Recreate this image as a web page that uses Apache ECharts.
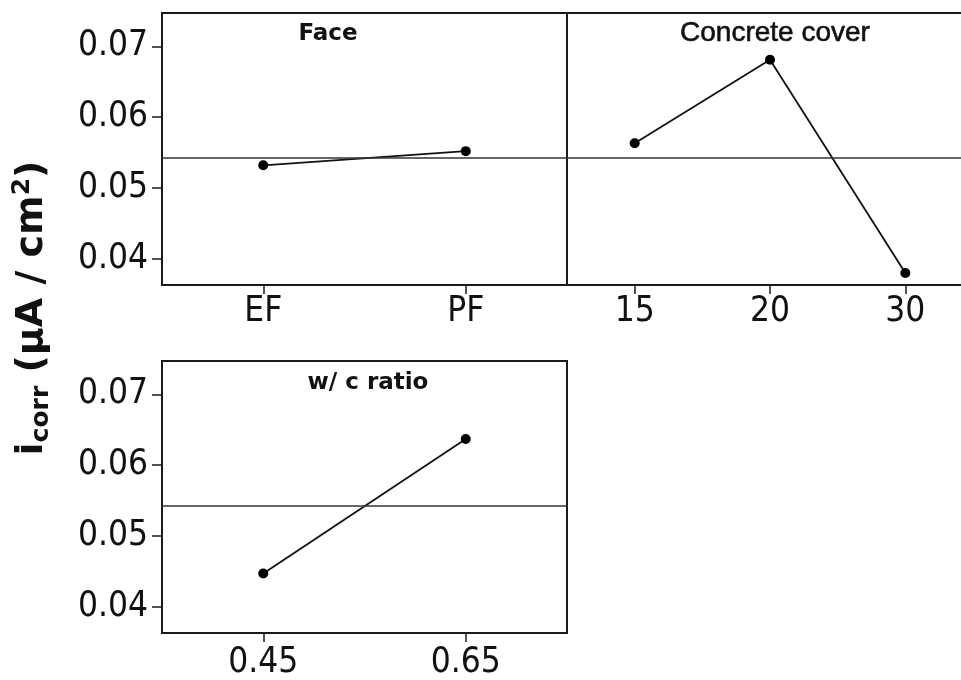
<!DOCTYPE html>
<html>
<head>
<meta charset="utf-8">
<script src="https://cdn.jsdelivr.net/npm/echarts@6/dist/echarts.min.js"></script>
<style>
html,body{margin:0;padding:0;background:#fff;overflow:hidden;width:961px;height:680px;}
#chart{width:975px;height:680px;}
</style>
</head>
<body>
<div id="chart"></div>
<script>
// ---- data ----
const faceLevels = ['EF', 'PF'];
const faceMeans = [0.0532, 0.0552];
const coverLevels = ['15', '20', '30'];
const coverMeans = [0.0563, 0.0681, 0.0380];
const wcLevels = ['0.45', '0.65'];
const wcMeans = [0.0447, 0.0637];
const grandMean = 0.0542;
const yTicks = [0.04, 0.05, 0.06, 0.07];
const yMin = 0.0363, yMax = 0.0747;
const panelTitles = ['Face', 'Concrete cover', 'w/ c ratio'];

const chart = echarts.init(document.getElementById('chart'), null, {renderer: 'canvas'});

const tickFont = 'DejaVu Sans Condensed';
const ink = '#1a1a1a';

function yAxisFor(gridIndex, showLabels) {
  return {
    type: 'value', gridIndex: gridIndex, min: yMin, max: yMax,
    axisLine: {show: true, lineStyle: {color: ink, width: 2}},
    axisTick: {show: showLabels, customValues: yTicks, length: 10, lineStyle: {color: ink, width: 1.5}},
    axisLabel: {show: showLabels, customValues: yTicks, fontFamily: tickFont, fontSize: 35,
      color: '#111', margin: 14, formatter: v => v.toFixed(2)},
    splitLine: {show: false}
  };
}
function xAxisFor(gridIndex, data, margin) {
  return {
    type: 'category', gridIndex: gridIndex, data: data, boundaryGap: true,
    axisLine: {show: true, lineStyle: {color: ink, width: 2}},
    axisTick: {show: true, alignWithLabel: true, length: 9, lineStyle: {color: ink, width: 1.5}},
    axisLabel: {fontFamily: tickFont, fontSize: 35, color: '#111', margin: margin, interval: 0},
    splitLine: {show: false}
  };
}
function seriesFor(idx, data) {
  return {
    type: 'line', xAxisIndex: idx, yAxisIndex: idx, data: data,
    symbol: 'circle', symbolSize: 10, showSymbol: true,
    lineStyle: {color: '#111', width: 1.8},
    itemStyle: {color: '#000'},
    animation: false,
    markLine: {
      silent: true, symbol: 'none', animation: false, precision: 6,
      label: {show: false},
      lineStyle: {color: '#333', width: 1.5, type: 'solid'},
      data: [{yAxis: grandMean}]
    }
  };
}

const option = {
  backgroundColor: '#fff',
  animation: false,
  grid: [
    {left: 162, top: 13, width: 405, height: 272, show: true, borderColor: ink, borderWidth: 2},
    {left: 567, top: 13, width: 406, height: 272, show: true, borderColor: ink, borderWidth: 2},
    {left: 162, top: 361, width: 405, height: 272, show: true, borderColor: ink, borderWidth: 2}
  ],
  xAxis: [xAxisFor(0, faceLevels, 9), xAxisFor(1, coverLevels, 9), xAxisFor(2, wcLevels, 12)],
  yAxis: [yAxisFor(0, true), yAxisFor(1, false), yAxisFor(2, true)],
  series: [seriesFor(0, faceMeans), seriesFor(1, coverMeans), seriesFor(2, wcMeans)],
  graphic: [
    {type: 'text', x: 328, y: 34, style: {text: panelTitles[0], font: 'bold 23px "DejaVu Sans"', fill: '#111', textAlign: 'center', textVerticalAlign: 'middle'}},
    {type: 'text', x: 775, y: 33, style: {text: panelTitles[1], font: '28px "Liberation Sans"', fill: '#111', stroke: '#111', lineWidth: 0.6, textAlign: 'center', textVerticalAlign: 'middle'}},
    {type: 'text', x: 368, y: 383, style: {text: panelTitles[2], font: 'bold 23px "DejaVu Sans"', fill: '#111', textAlign: 'center', textVerticalAlign: 'middle'}},
    {type: 'text', x: 32, y: 308, rotation: Math.PI / 2,
      style: {
        text: '{a|i}{b|corr}{a| (μA / cm}{c|2}{a|)}',
        textAlign: 'center', textVerticalAlign: 'middle',
        rich: {
          a: {fontFamily: 'DejaVu Sans', fontWeight: 'bold', fontSize: 38, lineHeight: 44, fill: '#111', color: '#111', verticalAlign: 'middle'},
          b: {fontFamily: 'DejaVu Sans', fontWeight: 'bold', fontSize: 25, lineHeight: 44, fill: '#111', color: '#111', verticalAlign: 'bottom'},
          c: {fontFamily: 'DejaVu Sans', fontWeight: 'bold', fontSize: 25, lineHeight: 44, fill: '#111', color: '#111', verticalAlign: 'top'}
        }
      }}
  ]
};
chart.setOption(option);
</script>
</body>
</html>
